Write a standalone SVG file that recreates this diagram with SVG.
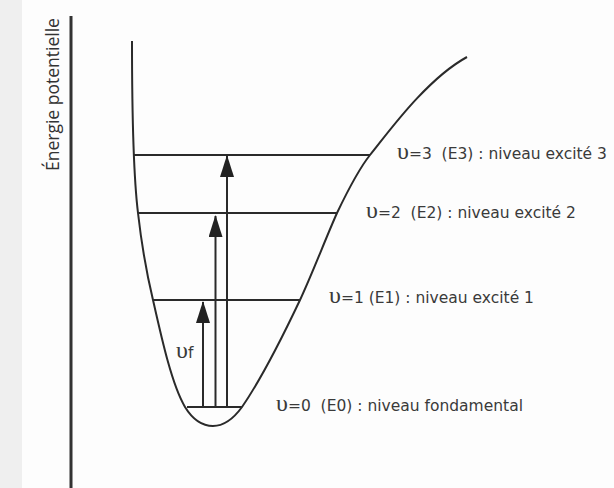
<svg xmlns="http://www.w3.org/2000/svg" width="614" height="488" viewBox="0 0 614 488">
<style>
.ln{stroke:#2a2a2a;stroke-width:2;fill:none}
.lbl{font-family:"DejaVu Sans",Verdana,sans-serif;font-size:15.5px;fill:#3a3a3a;white-space:pre}
.ups{font-family:"Liberation Serif","Times New Roman",serif;font-size:24px}
.ax{font-family:"Open Sans","Liberation Sans",sans-serif;font-size:17.5px;fill:#333}
</style>
<defs>
<marker id="ah" markerWidth="22" markerHeight="14" refX="21" refY="7" orient="auto" markerUnits="userSpaceOnUse" viewBox="0 0 22 14">
<polygon points="22,7 0,0 0,14" fill="#222"/>
</marker>
</defs>
<rect width="614" height="488" fill="#fdfdfd"/>
<rect width="22" height="488" fill="#efefef"/>
<g id="axis">
<line x1="71" y1="16" x2="71" y2="488" stroke="#333" stroke-width="3"/>
<text class="ax" transform="translate(59,171) rotate(-90)">Énergie potentielle</text>
</g>
<g id="curve">
<path class="ln" d="M132,41 C132,120 134,180 138,213 C142,248 147,275 153,300 C162,340 172,385 185,407 C193,420 203,426 213,426 C224,426 234,418 242,407 C262,378 282,338 300,300 C313,272 325,240 337,213 C348,190 358,170 370,155 C385,137 425,80 467,57"/>
</g>
<g id="levels">
<line class="ln" x1="134" y1="155" x2="370" y2="155"/>
<line class="ln" x1="138" y1="213" x2="337" y2="213"/>
<line class="ln" x1="153" y1="300" x2="300" y2="300"/>
<line class="ln" x1="187" y1="407" x2="242" y2="407"/>
</g>
<g id="connectors">
<line class="ln" x1="203" y1="407" x2="203" y2="302" marker-end="url(#ah)"/>
<line class="ln" x1="215.5" y1="407" x2="215.5" y2="216" marker-end="url(#ah)"/>
<line class="ln" x1="227" y1="407" x2="227" y2="156" marker-end="url(#ah)"/>
</g>
<g id="uf">
<text class="lbl" x="176" y="358"><tspan class="ups">υ</tspan>f</text>
</g>
<g id="label-e3">
<text class="lbl" x="397" y="159" xml:space="preserve"><tspan class="ups">υ</tspan>=3  (E3) : niveau excité 3</text>
</g>
<g id="label-e2">
<text class="lbl" x="366" y="218" xml:space="preserve"><tspan class="ups">υ</tspan>=2  (E2) : niveau excité 2</text>
</g>
<g id="label-e1">
<text class="lbl" x="329" y="303" xml:space="preserve"><tspan class="ups">υ</tspan>=1 (E1) : niveau excité 1</text>
</g>
<g id="label-e0">
<text class="lbl" x="276" y="411" xml:space="preserve"><tspan class="ups">υ</tspan>=0  (E0) : niveau fondamental</text>
</g>
</svg>
